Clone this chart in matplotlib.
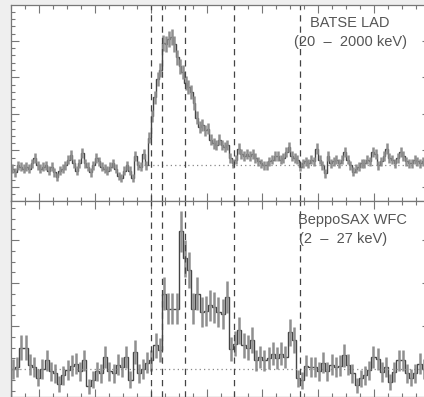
import numpy as np
import matplotlib
matplotlib.use("Agg")
import matplotlib.pyplot as plt
import matplotlib.ticker as ticker

# BATSE LAD light curve, 1 s bins from -50 s to 100 s (k counts/s)
batse_edges = np.arange(-50, 101, 1.0)
batse_rate = [
    3.0, 2.8, 3.2, 3.1, 3.0, 3.1, 3.0, 3.3, 3.6, 3.2,
    3.0, 3.1, 3.2, 2.9, 3.1, 2.8, 2.55, 2.9, 3.0, 3.2,
    3.5, 3.75, 3.3, 2.9, 3.3, 3.85, 3.3, 3.1, 2.8, 3.2,
    3.6, 3.4, 3.1, 3.0, 2.9, 3.1, 3.3, 3.0, 2.6, 2.5,
    2.9, 3.2, 2.9, 2.5, 3.7, 3.2, 3.1, 3.8, 3.2, 4.7,
    5.9, 6.9, 7.9, 8.4, 9.9, 9.8, 10.1, 10.2, 9.8, 9.1,
    8.6, 8.3, 7.7, 7.5, 7.2, 6.6, 5.8, 5.3, 5.4, 5.1,
    5.2, 4.6, 4.4, 4.3, 4.6, 4.3, 4.2, 4.3, 3.6, 3.3,
    3.5, 4.1, 3.8, 3.7, 3.8, 3.7, 3.8, 3.6, 3.4, 3.3,
    3.2, 3.2, 3.4, 3.5, 3.7, 3.7, 3.5, 3.6, 3.9, 4.2,
    3.7, 3.6, 3.5, 3.1, 3.3, 3.4, 3.3, 3.5, 3.4, 4.1,
    3.5, 3.2, 2.75, 3.7, 3.3, 3.4, 3.5, 3.3, 3.5, 3.9,
    3.5, 3.2, 2.85, 3.0, 3.1, 3.3, 3.3, 3.5, 3.4, 3.9,
    3.8, 3.2, 3.4, 3.7, 4.1, 3.6, 3.5, 3.3, 3.6, 3.9,
    3.7, 3.4, 3.3, 3.3, 3.5, 3.4, 3.3, 3.4, 3.2, 3.3,
]
batse_bkg = 3.2

# BeppoSAX WFC light curve, 1.5 s bins
wfc_edges = np.arange(-50, 100.1, 1.5)
wfc_rate = [
    1.0, 1.05, 1.5, 1.5, 1.1, 1.05, 0.8, 1.0, 1.2, 0.95,
    0.9, 0.65, 0.85, 0.98, 1.08, 1.12, 0.95, 1.2, 0.6, 0.75,
    0.95, 0.9, 1.28, 0.95, 0.9, 1.1, 1.05, 1.28, 0.75, 1.4,
    0.9, 1.0, 1.15, 1.2, 1.55, 1.45, 2.75, 2.4, 2.4, 2.4,
    4.2, 3.57, 3.3, 2.4, 2.75, 2.33, 2.35, 2.48, 2.44, 2.33,
    2.29, 2.67, 1.47, 1.59, 1.9, 1.55, 1.5, 1.67, 1.2, 1.28,
    1.2, 1.25, 1.35, 1.25, 1.35, 1.28, 1.86, 1.67, 0.78, 0.74,
    1.08, 1.05, 1.05, 0.95, 1.15, 0.95, 1.1, 1.05, 1.08, 1.32,
    1.1, 0.9, 0.62, 0.78, 0.85, 0.97, 1.28, 1.24, 0.93, 1.05,
    0.7, 0.93, 1.2, 1.2, 0.9, 0.8, 0.9, 1.12, 1.0, 1.05,
]
wfc_bkg = 1.0

# interval markers (s)
marks = [0, 4.2, 12.4, 30, 53.6]

W, H = 424, 397
fig = plt.figure(figsize=(W / 100, H / 100), dpi=100, facecolor='#efefef')
ax1 = fig.add_axes([11 / W, 196 / H, 419 / W, 196 / H])
ax2 = fig.add_axes([11 / W, 0, 419 / W, 196 / H])

panels = [
    (ax1, batse_edges, batse_rate, batse_bkg, 0.14, (1.237, 11.96), 2, 0.4, -2.5),
    (ax2, wfc_edges, wfc_rate, wfc_bkg, 0.23, (0.349, 4.907), 1, 0.25, -50),
]
for ax, edges, rate, bkg, ek, ylim, maj, mnr, x0 in panels:
    rate = np.array(rate)
    cen = (edges[:-1] + edges[1:]) / 2
    err = ek * np.sqrt(rate)
    ax.errorbar(cen, rate, yerr=err, fmt='none', ecolor='#8f8f8f', elinewidth=1.8)
    ax.stairs(rate, edges, color='#454545', lw=1.0)
    ax.hlines(bkg, x0, 100, colors='#888888', linestyles=(0, (1, 2.5)), lw=0.9)
    for m in marks:
        ax.axvline(m, color='#444444', lw=0.9, ls=(0, (5, 4)))
    ax.set_xlim(-50, 100)
    ax.set_ylim(*ylim)
    ax.set_facecolor('white')
    ax.xaxis.set_major_locator(ticker.MultipleLocator(20))
    ax.xaxis.set_minor_locator(ticker.MultipleLocator(5))
    ax.yaxis.set_major_locator(ticker.MultipleLocator(maj))
    ax.yaxis.set_minor_locator(ticker.MultipleLocator(mnr))
    ax.tick_params(which='both', direction='in', top=True, right=True,
                   labelbottom=False, labelleft=False, color='#777777', width=0.8)
    ax.tick_params(which='major', length=6)
    ax.tick_params(which='minor', length=3)
    for s in ax.spines.values():
        s.set_color('#777777')
        s.set_linewidth(0.9)

txt = dict(transform=fig.transFigure, va='center', fontsize=10.5,
           color='#555555', family='Liberation Sans')
ax1.text(350 / W, 1 - 23 / H, 'BATSE LAD', ha='center', **txt)
ax1.text(350 / W, 1 - 42 / H, '(20  \u2013  2000 keV)', ha='center', **txt)
ax2.text(298 / W, 1 - 220 / H, 'BeppoSAX WFC', ha='left', **txt)
ax2.text(299 / W, 1 - 239 / H, '(2  \u2013  27 keV)', ha='left', **txt)

fig.savefig('out.png', dpi=100, facecolor=fig.get_facecolor())
